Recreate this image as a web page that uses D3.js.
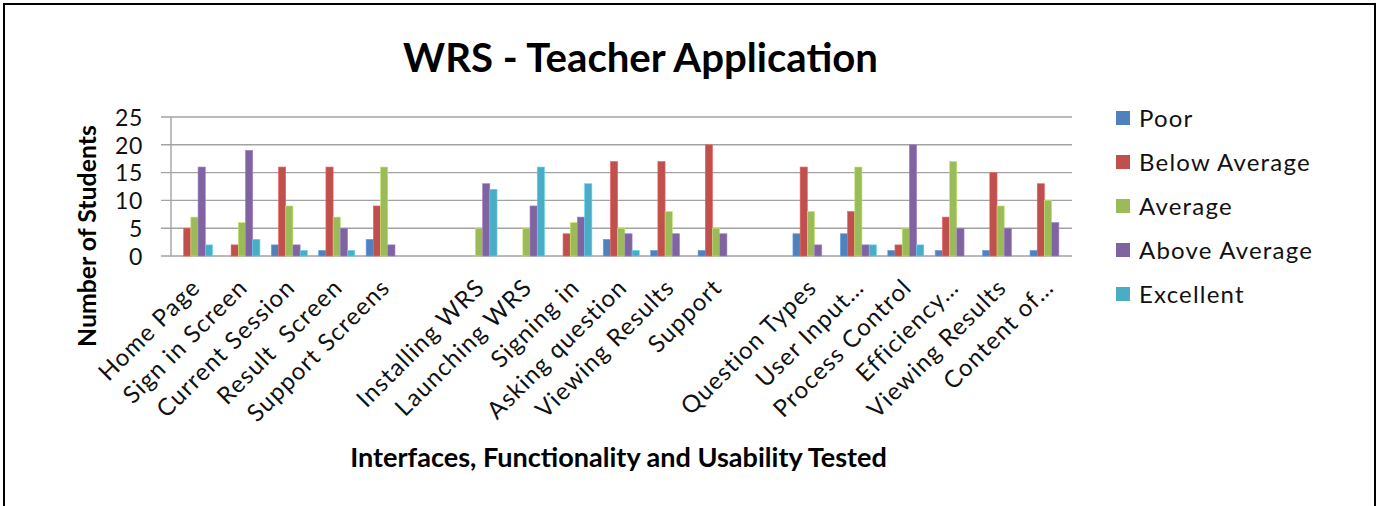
<!DOCTYPE html>
<html>
<head>
<meta charset="utf-8">
<script src="https://cdn.jsdelivr.net/npm/d3@7"></script>
<style>
  html, body { margin: 0; padding: 0; background: #fff; }
  svg { display: block; }
  text { font-family: Lato, "Open Sans", sans-serif; white-space: pre; }
</style>
</head>
<body>
<svg id="chart" width="1377" height="506"></svg>
<script>
const categories = ["Home Page","Sign in Screen","Current Session","Result  Screen","Support Screens","",
  "Installing WRS","Launching WRS","Signing in","Asking question","Viewing Results","Support","",
  "Question Types","User Input…","Process Control","Efficiency…","Viewing Results","Content of…"];
const seriesNames = ["Poor","Below Average","Average","Above Average","Excellent"];
const poor         = [0,0,2,1,3,0, 0,0,0,3,1,1,0, 4,4,1,1,1,1];
const belowAverage = [5,2,16,16,9,0, 0,0,4,17,17,20,0, 16,8,2,7,15,13];
const average      = [7,6,9,7,16,0, 5,5,6,5,8,5,0, 8,16,5,17,9,10];
const aboveAverage = [16,19,2,5,2,0, 13,9,7,4,4,4,0, 2,2,20,5,5,6];
const excellent    = [2,3,1,1,0,0, 12,16,13,1,0,0,0, 0,2,2,0,0,0];
const yTicks = [0,5,10,15,20,25];
const colors = ["#4F81BD","#C0504D","#9BBB59","#8064A2","#4BACC6"];
const titleText = "WRS - Teacher Application";
const xTitle = "Interfaces, Functionality and Usability Tested";
const yTitle = "Number of Students";

(function(){
const values = [poor, belowAverage, average, aboveAverage, excellent];
const svg = d3.select("#chart");

// frame
svg.append("rect").attr("x",4).attr("y",4).attr("width",1371).attr("height",520)
  .attr("fill","none").attr("stroke","#000").attr("stroke-width",2);

const pLeft = 171, pRight = 1072, pTop = 117, pBottom = 256;
const idx = categories.map((d,i)=>i);
const x0 = d3.scaleBand().domain(idx).range([pLeft,pRight]).padding(0);
const bw = x0.bandwidth();
const x1 = d3.scaleBand().domain(d3.range(seriesNames.length)).range([0.115*bw, 0.875*bw]).padding(0);
const y = d3.scaleLinear().domain([0,25]).range([pBottom, pTop]);

// gridlines
const grid = svg.append("g");
grid.selectAll("line").data(yTicks).join("line")
  .attr("x1", pLeft-10).attr("x2", pRight)
  .attr("y1", d=>y(d)).attr("y2", d=>y(d))
  .attr("stroke","#A3A3A3").attr("stroke-width",1.4);
svg.append("line").attr("x1",pLeft).attr("x2",pLeft).attr("y1",pTop).attr("y2",pBottom)
  .attr("stroke","#A3A3A3").attr("stroke-width",1.4);

// y axis labels
const yAxis = d3.axisLeft(y).tickValues(yTicks).tickSize(0).tickPadding(0).tickFormat(d3.format("d"));
const yg = svg.append("g").attr("transform",`translate(143,0)`).call(yAxis);
yg.select(".domain").remove();
yg.selectAll("text").attr("font-size",23).attr("fill","#111").attr("dy","0.36em")
  .style("letter-spacing","0.6px")
  .style("font-family","Lato, sans-serif");

// bars
const g = svg.append("g");
values.forEach((arr, s) => {
  g.append("g").selectAll("rect").data(arr.map((v,i)=>({v,i}))).join("rect")
    .attr("x", d => x0(d.i) + x1(s))
    .attr("width", x1.bandwidth())
    .attr("y", d => y(d.v))
    .attr("height", d => y(0) - y(d.v))
    .attr("fill", colors[s])
    .attr("stroke", d3.color(colors[s]).brighter(0.6))
    .attr("stroke-width", 0.6);
});

// x axis labels
const xAxis = d3.axisBottom(x0).tickSize(0).tickFormat(i => categories[i]);
const xg = svg.append("g").attr("transform",`translate(0,${pBottom})`).call(xAxis);
xg.select(".domain").remove();
xg.selectAll("text")
  .attr("font-size",24).attr("fill","#111")
  .attr("text-anchor","end")
  .attr("dy",null).attr("y",null)
  .style("letter-spacing","1.2px")
  .attr("transform","translate(7,33) rotate(-45)")
  .style("font-family","Lato, sans-serif");

function fit(sel, target) {
  sel.attr("font-size", 100);
  const w = sel.node().getComputedTextLength();
  sel.attr("font-size", 100*target/w);
}

const t = svg.append("text").attr("x",640.5).attr("y",72).attr("text-anchor","middle")
  .attr("font-weight","bold").attr("fill","#000").text(titleText);
fit(t, 475);

const xt = svg.append("text").attr("x",618.5).attr("y",467).attr("text-anchor","middle")
  .attr("font-weight","bold").attr("fill","#000").text(xTitle);
fit(xt, 537);

const yt = svg.append("text").attr("transform","translate(96,236) rotate(-90)").attr("text-anchor","middle")
  .attr("font-weight","bold").attr("fill","#000").text(yTitle);
fit(yt, 222);

// legend
const legY = [118,162,206,250,294];
const leg = svg.append("g");
seriesNames.forEach((n,i) => {
  leg.append("rect").attr("x",1116).attr("y",legY[i]-7).attr("width",14).attr("height",14).attr("fill",colors[i]);
  leg.append("text").attr("x",1139).attr("y",legY[i]).attr("dy","0.36em")
    .attr("font-size",24).style("letter-spacing","1.2px").attr("fill","#111").text(n);
});
})();
</script>
</body>
</html>
